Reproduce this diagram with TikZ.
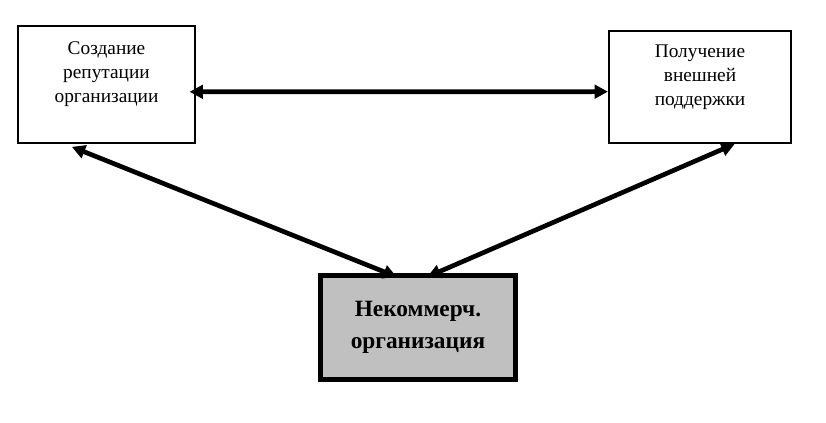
\documentclass[tikz,border=0pt]{standalone}
\usepackage{fontspec}
\setmainfont{Liberation Serif}
\usetikzlibrary{arrows.meta}
\definecolor{boxgray}{RGB}{192,192,192}

\begin{document}
\begin{tikzpicture}[x=0.75pt, y=-0.75pt,
    box/.style={rectangle, draw, line width=1.5pt, align=center, font=\fontsize{14.5}{18}\selectfont},
    link/.style={line width=3.5pt, {Triangle[length=10pt,width=10pt]}-{Triangle[length=10pt,width=10pt]}}]
    \useasboundingbox (0,0) rectangle (826,423);

    % top boxes
    \node[box, minimum width=133pt, minimum height=88pt] (rep) at (106.5, 84.5) {Создание\\репутации\\организации\\ };
    \node[box, minimum width=136.5pt, minimum height=84pt] (sup) at (700, 87) {Получение\\внешней\\поддержки\\ };

    % organisation box
    \node[rectangle, draw, line width=4pt, fill=boxgray, align=center,
          minimum width=146pt, minimum height=78pt,
          font=\fontsize{17.5}{24}\selectfont\bfseries] (org) at (418, 327.5) {Некоммерч.\\организация};

    % links
    \draw[link] ([yshift=-5.5pt, xshift=-5pt]rep.east) -- ([yshift=-3.5pt]sup.west);
    \draw[link] ([xshift=-26pt, yshift=-2pt]rep.south) -- ([xshift=-16pt, yshift=-3pt]org.north);
    \draw[link] ([xshift=26pt]sup.south) -- ([xshift=7pt, yshift=-3pt]org.north);

\end{tikzpicture}
\end{document}
